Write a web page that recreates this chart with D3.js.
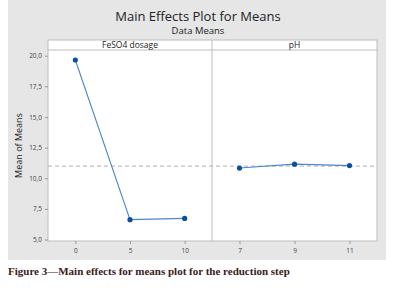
<!DOCTYPE html>
<html>
<head>
<meta charset="utf-8">
<script src="https://cdn.jsdelivr.net/npm/d3@7"></script>
<style>
  body { margin: 0; background: #fff; }
  svg { display: block; }
</style>
</head>
<body>
<div id="chart"></div>
<script>
// data
const factors = ['FeSO4 dosage', 'pH'];
const feLevels = ['0', '5', '10'];
const feMeans = [19.65, 6.62, 6.72];
const phLevels = ['7', '9', '11'];
const phMeans = [10.83, 11.15, 11.03];
const yTicks = [5, 7.5, 10, 12.5, 15, 17.5, 20];
const grandMean = 10.99;

const W = 396, H = 295;
const svg = d3.select('#chart').append('svg')
    .attr('width', W).attr('height', H);

// gray chart background
svg.append('rect')
    .attr('x', 8).attr('y', 0).attr('width', 378).attr('height', 260)
    .attr('fill', '#e6e6e6');

const plot = {left: 48, right: 377, stripTop: 40, top: 50, bottom: 241};
const mid = 212;

svg.append('text')
    .attr('x', 198).attr('y', 21)
    .attr('text-anchor', 'middle')
    .style('font-family', 'Open Sans, sans-serif')
    .style('font-size', '13px')
    .attr('fill', '#222')
    .text('Main Effects Plot for Means');

svg.append('text')
    .attr('x', 198).attr('y', 34)
    .attr('text-anchor', 'middle')
    .style('font-family', 'Open Sans, sans-serif')
    .style('font-size', '9.5px')
    .attr('fill', '#222')
    .text('Data Means');

// panel areas
svg.append('rect')
    .attr('x', plot.left).attr('y', plot.stripTop)
    .attr('width', plot.right - plot.left).attr('height', plot.bottom - plot.stripTop)
    .attr('fill', '#fff').attr('stroke', '#bdbdbd').attr('stroke-width', 1);

svg.append('line')
    .attr('x1', plot.left).attr('x2', plot.right)
    .attr('y1', plot.top).attr('y2', plot.top)
    .attr('stroke', '#bdbdbd');

svg.append('line')
    .attr('x1', mid).attr('x2', mid)
    .attr('y1', plot.stripTop).attr('y2', plot.bottom)
    .attr('stroke', '#bdbdbd');

const y = d3.scaleLinear()
    .domain([5, 20])
    .range([239.5, 55.7]);

// y axis
const yAxis = svg.append('g')
    .attr('transform', `translate(${plot.left},0)`)
    .call(d3.axisLeft(y).tickValues(yTicks).tickSize(3)
        .tickFormat(d => d3.format('.1f')(d).replace('.', ',')));
yAxis.select('.domain').remove();
yAxis.selectAll('line').attr('stroke', '#999');
yAxis.selectAll('text')
    .style('font-family', 'Open Sans, sans-serif')
    .style('font-size', '6.5px')
    .attr('fill', '#444');

svg.append('text')
    .attr('transform', `translate(22,${(plot.top + plot.bottom) / 2}) rotate(-90)`)
    .attr('text-anchor', 'middle')
    .style('font-family', 'Open Sans, sans-serif')
    .style('font-size', '9px')
    .attr('fill', '#222')
    .text('Mean of Means');

// grand mean reference line
svg.append('line')
    .attr('x1', plot.left).attr('x2', plot.right)
    .attr('y1', y(grandMean)).attr('y2', y(grandMean))
    .attr('stroke', '#b0b0b0')
    .attr('stroke-width', 1)
    .attr('stroke-dasharray', '4,3');

const panels = [
    {name: factors[0], levels: feLevels, means: feMeans, x0: plot.left, x1: mid},
    {name: factors[1], levels: phLevels, means: phMeans, x0: mid, x1: plot.right}
];

panels.forEach(p => {
    const x = d3.scalePoint()
        .domain(p.levels)
        .range([p.x0, p.x1])
        .padding(0.5);

    svg.append('text')
        .attr('x', (p.x0 + p.x1) / 2).attr('y', 48)
        .attr('text-anchor', 'middle')
        .style('font-family', 'Open Sans, sans-serif')
        .style('font-size', '8.5px')
        .attr('fill', '#222')
        .text(p.name);

    const xAxis = svg.append('g')
        .attr('transform', `translate(0,${plot.bottom})`)
        .call(d3.axisBottom(x).tickSize(3).tickPadding(4));
    xAxis.select('.domain').remove();
    xAxis.selectAll('line').attr('stroke', '#999');
    xAxis.selectAll('text')
        .style('font-family', 'Open Sans, sans-serif')
        .style('font-size', '6.5px')
        .attr('fill', '#444');

    const pts = p.levels.map((l, i) => ({l, v: p.means[i]}));

    svg.append('path')
        .datum(pts)
        .attr('fill', 'none')
        .attr('stroke', '#4a86c8')
        .attr('stroke-width', 1.1)
        .attr('d', d3.line().x(d => x(d.l)).y(d => y(d.v)));

    svg.selectAll(null)
        .data(pts)
        .enter()
        .append('circle')
        .attr('cx', d => x(d.l))
        .attr('cy', d => y(d.v))
        .attr('r', 2.6)
        .attr('fill', '#0b4ea2');
});

// figure caption
svg.append('text')
    .attr('x', 8).attr('y', 275)
    .style('font-family', 'Liberation Serif, serif')
    .style('font-size', '11px')
    .style('font-weight', 'bold')
    .attr('fill', '#3b1a1a')
    .text('Figure 3—Main effects for means plot for the reduction step');
</script>
</body>
</html>
